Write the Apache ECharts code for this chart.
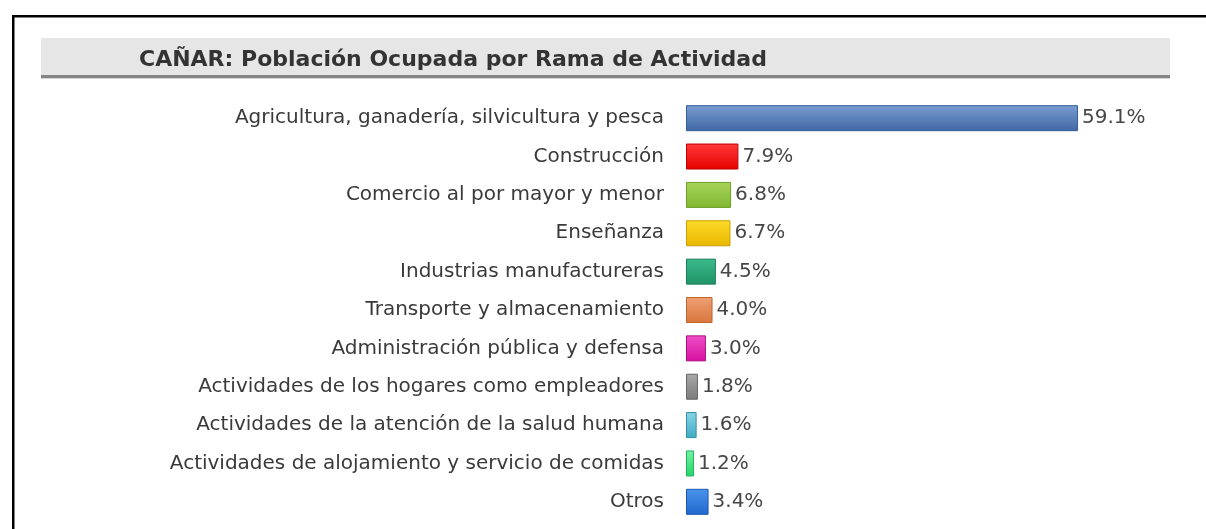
<!DOCTYPE html>
<html>
<head>
<meta charset="utf-8">
<script src="https://cdn.jsdelivr.net/npm/echarts@6/dist/echarts.min.js"></script>
<style>
  html, body { margin: 0; padding: 0; background: #ffffff; }
  #chart { width: 1206px; height: 529px; }
</style>
</head>
<body>
<div id="chart"></div>
<script>
// ---- data ----
const titleText = 'CAÑAR: Población Ocupada por Rama de Actividad';
const categories = [
  'Agricultura, ganadería, silvicultura y pesca',
  'Construcción',
  'Comercio al por mayor y menor',
  'Enseñanza',
  'Industrias manufactureras',
  'Transporte y almacenamiento',
  'Administración pública y defensa',
  'Actividades de los hogares como empleadores',
  'Actividades de la atención de la salud humana',
  'Actividades de alojamiento y servicio de comidas',
  'Otros'
];
const values = [59.1, 7.9, 6.8, 6.7, 4.5, 4.0, 3.0, 1.8, 1.6, 1.2, 3.4];

// ---- styles ----
const barColors = [
  ['#7a9dd0', '#3f67a5', '#365c96'],
  ['#ff3a3a', '#e80000', '#c00000'],
  ['#a8d458', '#80b832', '#6d9e28'],
  ['#ffd92a', '#e8b800', '#c9a000'],
  ['#3cba8c', '#1f9466', '#1a7d56'],
  ['#eea074', '#d9753c', '#bf6530'],
  ['#f050c8', '#d6109e', '#b00c82'],
  ['#a8a8a8', '#7c7c7c', '#666666'],
  ['#8ad4e4', '#3eaac4', '#3290a8'],
  ['#7cf0a6', '#22d46a', '#1ab85a'],
  ['#4a94ee', '#1f68cc', '#1a58b0']
];

const chart = echarts.init(document.getElementById('chart'), null, { renderer: 'canvas' });

const seriesData = values.map((v, i) => ({
  value: v,
  itemStyle: {
    color: new echarts.graphic.LinearGradient(0, 0, 0, 1, [
      { offset: 0, color: barColors[i][0] },
      { offset: 1, color: barColors[i][1] }
    ]),
    borderColor: barColors[i][2],
    borderWidth: 1
  }
}));

const FONT = '"DejaVu Sans", "Liberation Sans", sans-serif';

chart.setOption({
  backgroundColor: '#ffffff',
  animation: false,
  graphic: [
    // outer frame (top and left edges)
    { type: 'rect', shape: { x: 12, y: 15, width: 1194, height: 2.5 }, style: { fill: '#000000' }, silent: true },
    { type: 'rect', shape: { x: 12, y: 15, width: 2.5, height: 514 }, style: { fill: '#000000' }, silent: true },
    // title band
    { type: 'rect', shape: { x: 41, y: 38, width: 1129, height: 38 }, style: { fill: '#e6e6e6' }, silent: true },
    { type: 'rect', shape: { x: 41, y: 75, width: 1129, height: 3 }, style: { fill: '#858585' }, silent: true },
    { type: 'rect', shape: { x: 41, y: 78, width: 1129, height: 1 }, style: { fill: '#d8d8d8' }, silent: true }
  ],
  title: {
    text: titleText,
    left: 134,
    top: 44,
    textStyle: {
      fontFamily: FONT,
      fontWeight: 'bold',
      fontSize: 22,
      color: '#333333'
    }
  },
  grid: {
    left: 686,
    right: 122,
    top: 99,
    height: 422,
    containLabel: false
  },
  xAxis: {
    type: 'value',
    min: 0,
    max: 60,
    show: false
  },
  yAxis: {
    type: 'category',
    inverse: true,
    data: categories,
    axisLine: { show: false },
    axisTick: { show: false },
    splitLine: { show: false },
    axisLabel: {
      margin: 22,
      fontFamily: FONT,
      fontSize: 20,
      color: '#3a3a3a'
    }
  },
  series: [{
    type: 'bar',
    data: seriesData,
    barWidth: 26,
    label: {
      show: true,
      position: 'right',
      distance: 4,
      fontFamily: FONT,
      fontSize: 20,
      color: '#474747',
      formatter: p => p.value.toFixed(1) + '%'
    }
  }]
});
</script>
</body>
</html>
